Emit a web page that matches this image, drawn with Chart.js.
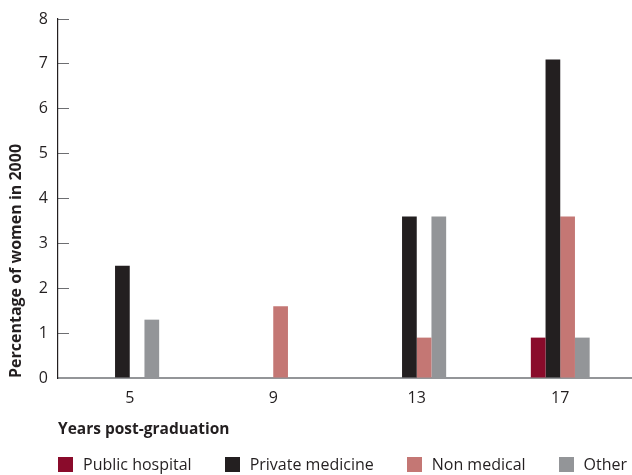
<!DOCTYPE html>
<html>
<head>
<meta charset="utf-8">
<script src="https://cdn.jsdelivr.net/npm/chart.js@4/dist/chart.umd.min.js"></script>
<style>
  html, body { margin: 0; padding: 0; background: #fff; }
  #wrap { position: relative; width: 632px; height: 475px; }
  #legend {
    position: absolute; left: 58px; top: 457px;
    display: flex; gap: 33px;
    font: 16px "Open Sans", sans-serif; color: #231f20; line-height: 15px;
  }
  #legend span.item { display: flex; align-items: flex-end; }
  #legend i { display: inline-block; width: 15px; height: 15px; margin-right: 10px; }
</style>
</head>
<body>
<div id="wrap">
  <canvas id="chart" width="632" height="475"></canvas>
  <div id="legend"></div>
</div>
<script>
// years since graduation
const years = ["5", "9", "13", "17"];

// percentage of women in each sector (null = no bar)
const publicHospital = [null, null, null, 0.9];
const privateMedicine = [2.5, null, 3.6, 7.1];
const nonMedical = [null, 1.6, 0.9, 3.6];
const other = [1.3, null, 3.6, 0.9];

const seriesNames = ["Public hospital", "Private medicine", "Non medical", "Other"];
const seriesColors = ["#8a0b2b", "#231f20", "#c47774", "#939598"];

const yTicks = [0, 1, 2, 3, 4, 5, 6, 7, 8];

const textColor = "#231f20";
const fontFamily = "'Open Sans', sans-serif";

const seriesValues = [publicHospital, privateMedicine, nonMedical, other];

const datasets = seriesNames.map((name, i) => ({
  label: name,
  data: seriesValues[i],
  backgroundColor: seriesColors[i],
  borderWidth: 0,
  categoryPercentage: 0.41,
  barPercentage: 1
}));

// legend drawn as plain html so item spacing can be set freely
const legendEl = document.getElementById("legend");
seriesNames.forEach((name, i) => {
  const item = document.createElement("span");
  item.className = "item";
  const box = document.createElement("i");
  box.style.background = seriesColors[i];
  item.appendChild(box);
  item.appendChild(document.createTextNode(name));
  legendEl.appendChild(item);
});

new Chart(document.getElementById("chart").getContext("2d"), {
  type: "bar",
  data: { labels: years, datasets },
  options: {
    responsive: false,
    animation: false,
    layout: { padding: { top: 19, right: 0, bottom: 30, left: 0 } },
    plugins: {
      legend: { display: false },
      tooltip: { enabled: false }
    },
    scales: {
      x: {
        offset: true,
        grid: { display: false },
        border: { display: true, color: "#939598", width: 2 },
        ticks: {
          color: textColor,
          font: { family: fontFamily, size: 16 },
          padding: 3
        },
        title: {
          display: true,
          text: "Years post-graduation",
          align: "start",
          color: textColor,
          font: { family: fontFamily, size: 15.5, weight: "bold" },
          padding: { top: 0, bottom: 6 }
        },
        afterFit: (scale) => { scale.height = 67; }
      },
      y: {
        min: 0,
        max: 8,
        afterBuildTicks: (scale) => {
          scale.ticks = yTicks.map((v) => ({ value: v }));
        },
        grid: {
          display: true,
          drawOnChartArea: false,
          drawTicks: true,
          tickLength: -11,
          color: "#6d6e71",
          lineWidth: 1
        },
        border: { display: true, color: textColor, width: 1.2 },
        ticks: {
          color: textColor,
          font: { family: fontFamily, size: 16 },
          padding: 21
        },
        title: {
          display: true,
          text: "Percentage of women in 2000",
          align: "start",
          color: textColor,
          font: { family: fontFamily, size: 16, weight: "bold" },
          padding: { top: 7, bottom: 0 }
        },
        afterFit: (scale) => {
          scale.width = 58;
          // inward tick marks inflate the label padding; keep the top edge fixed
          scale.paddingTop = 0;
          scale.paddingBottom = 0;
        }
      }
    }
  }
});
</script>
</body>
</html>
